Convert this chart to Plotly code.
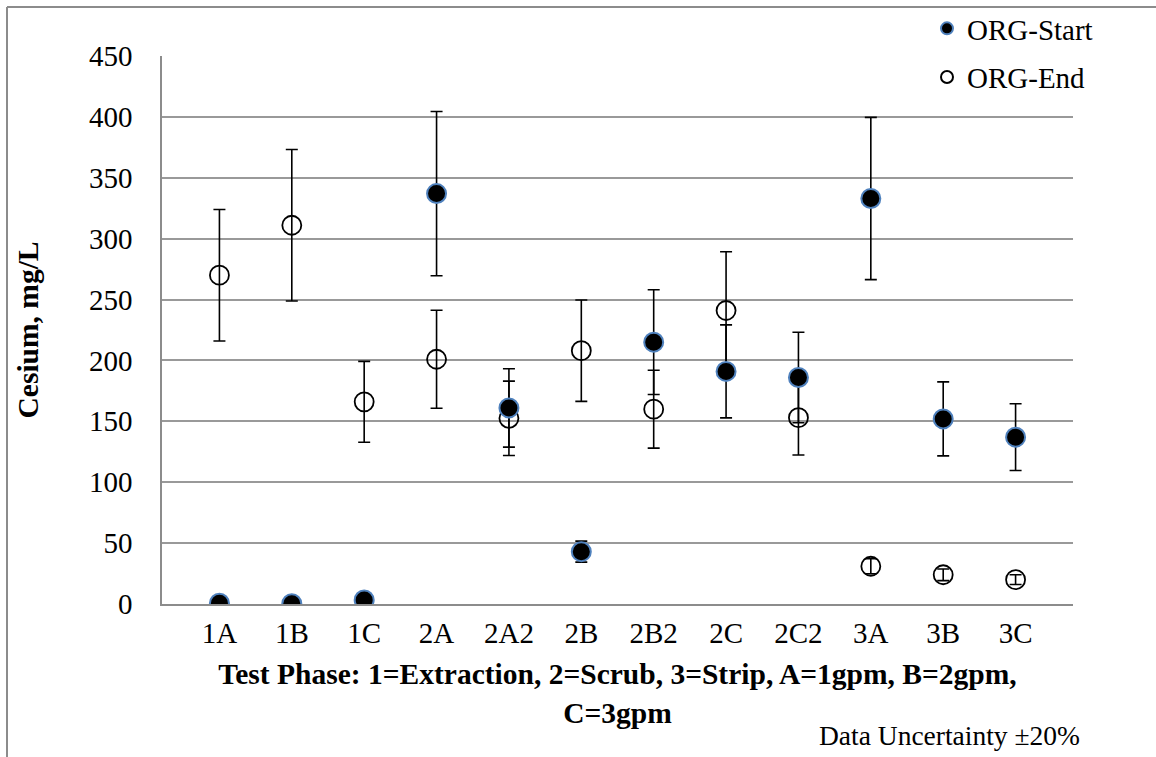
import plotly.graph_objects as go

categories = ["1A", "1B", "1C", "2A", "2A2", "2B", "2B2", "2C", "2C2", "3A", "3B", "3C"]
org_start = [0.6, 0.2, 3.3, 337, 161, 43, 215, 191, 186, 333, 152, 137]
org_end = [270, 311, 166, 201, 152.5, 208, 160, 241, 153, 31, 24, 20]
y_ticks = [0, 50, 100, 150, 200, 250, 300, 350, 400, 450]

FONT = "Liberation Serif"
W, H = 1156, 757
L, R, T, B = 162, 1073, 56, 604

fig = go.Figure()

fig.add_trace(go.Scatter(
    x=categories, y=org_end, mode="markers", name="ORG-End",
    legendgroup="end", legendrank=2,
    marker=dict(symbol="circle-open", size=19, color="black", line=dict(width=1.8, color="black")),
    error_y=dict(type="percent", value=20, color="black", thickness=1.6, width=6),
))
fig.add_trace(go.Scatter(
    x=categories, y=org_start, mode="markers", name="ORG-Start",
    legendgroup="start", legendrank=1,
    marker=dict(symbol="circle", size=19, color="black", line=dict(width=2, color="#4F81BD")),
    error_y=dict(type="percent", value=20, color="black", thickness=1.6, width=6),
))

def px_x(p):
    return (p - L) / (R - L)

def px_y(p):
    return (B - p) / (B - T)

fig.update_layout(
    width=W, height=H,
    margin=dict(l=L, r=W - R, t=T, b=H - B, autoexpand=False),
    paper_bgcolor="white", plot_bgcolor="white",
    font=dict(family=FONT, size=29, color="black"),
    showlegend=True,
    legend=dict(
        x=px_x(927), y=px_y(3), xanchor="left", yanchor="top",
        bgcolor="rgba(0,0,0,0)", borderwidth=0,
        itemsizing="constant", traceorder="grouped", tracegroupgap=8,
        font=dict(family=FONT, size=29, color="black"),
    ),
    xaxis=dict(
        type="category", categoryorder="array", categoryarray=categories,
        showgrid=False, zeroline=False, ticks="",
        showline=True, linecolor="#8C8C8C", linewidth=1.5,
        tickfont=dict(family=FONT, size=29),
        ticklabelstandoff=2,
        title=dict(
            text="Test Phase: 1=Extraction, 2=Scrub, 3=Strip, A=1gpm, B=2gpm,<br>C=3gpm",
            font=dict(family=FONT, size=29.5, weight="bold"),
            standoff=16,
        ),
    ),
    yaxis=dict(
        range=[0, 450], tickvals=y_ticks, ticktext=[str(v) for v in y_ticks],
        showgrid=True, gridcolor="#999999", gridwidth=1.5,
        zeroline=False, ticks="",
        showline=True, linecolor="#8C8C8C", linewidth=1.5,
        tickfont=dict(family=FONT, size=29),
        ticklabelstandoff=22,
        title=dict(text="Cesium, mg/L", font=dict(family=FONT, size=29.5, weight="bold"), standoff=42),
    ),
    annotations=[dict(
        text="Data Uncertainty ±20%", xref="paper", yref="paper",
        x=px_x(1082), y=px_y(735), xanchor="right", yanchor="middle",
        showarrow=False, font=dict(family=FONT, size=27.5, color="black"),
    )],
    shapes=[
        dict(type="line", xref="paper", yref="paper", x0=px_x(7), x1=px_x(1160), y0=px_y(7), y1=px_y(7),
             line=dict(color="#8C8C8C", width=2)),
        dict(type="line", xref="paper", yref="paper", x0=px_x(7), x1=px_x(7), y0=px_y(7), y1=px_y(760),
             line=dict(color="#8C8C8C", width=2)),
    ],
)

fig.write_html("out.html")
